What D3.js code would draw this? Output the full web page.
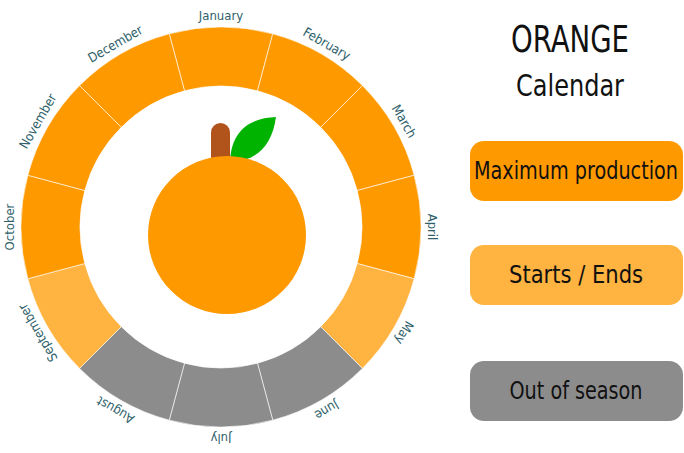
<!DOCTYPE html>
<html><head><meta charset="utf-8">
<script src="https://d3js.org/d3.v7.min.js"></script>
<style>body{margin:0;background:#fff}text{font-family:"Liberation Sans Narrow","DejaVu Sans Condensed",sans-serif}</style>
</head><body>
<script>
const months = ["January","February","March","April","May","June","July","August","September","October","November","December"];
const season = ["max","max","max","max","edge","out","out","out","edge","max","max","max"];
const legendKeys = ["max","edge","out"];
const legendLabels = ["Maximum production","Starts / Ends","Out of season"];
const legendWidths = [204,134,133];

const color = d3.scaleOrdinal().domain(legendKeys).range(["#ff9900","#ffb340","#8c8c8c"]);
const svg = d3.select("body").append("svg").attr("width",684).attr("height",453);
const cx = 221, cy = 227, rOut = 200, rIn = 141;
const angle = d3.scaleLinear().domain([0,12]).range([-Math.PI/12, 2*Math.PI - Math.PI/12]);
const arc = d3.arc().innerRadius(rIn).outerRadius(rOut);
const g = svg.append("g").attr("transform",`translate(${cx},${cy})`);
g.selectAll("path.seg").data(months).enter().append("path")
  .attr("d",(d,i)=>arc({startAngle:angle(i),endAngle:angle(i+1)}))
  .attr("fill",(d,i)=>color(season[i])).attr("stroke","#fff").attr("stroke-width",0.6);
g.selectAll("text.m").data(months).enter().append("text")
  .attr("transform",(d,i)=>`rotate(${i*30}) translate(0,${-rOut-7})`)
  .attr("text-anchor","middle").attr("font-size",13).attr("fill","#2f5f6a").text(d=>d);

// orange
svg.append("path").attr("d","M230,160 C232,130 250,118 276,117 C272,145 258,160 232,162 Z").attr("fill","#00b300");
svg.append("rect").attr("x",211).attr("y",123).attr("width",19).attr("height",50).attr("rx",9.5).attr("fill","#b0541b");
svg.append("circle").attr("cx",227).attr("cy",235).attr("r",79).attr("fill","#ff9900");

// title + legend
svg.append("text").attr("x",570).attr("y",52).attr("text-anchor","middle").attr("font-size",38)
  .attr("textLength",118).attr("lengthAdjust","spacingAndGlyphs").attr("fill","#111").text("ORANGE");
svg.append("text").attr("x",570).attr("y",96).attr("text-anchor","middle").attr("font-size",31)
  .attr("textLength",108).attr("lengthAdjust","spacingAndGlyphs").attr("fill","#111").text("Calendar");
const ly = d3.scaleOrdinal().domain(legendKeys).range([141,245,361]);
const lg = svg.selectAll("g.l").data(legendKeys).enter().append("g").attr("transform",d=>`translate(470,${ly(d)})`);
lg.append("rect").attr("width",213).attr("height",60).attr("rx",14).attr("fill",d=>color(d));
lg.append("text").attr("x",106).attr("y",38).attr("text-anchor","middle").attr("font-size",25)
  .attr("textLength",(d,i)=>legendWidths[i]).attr("lengthAdjust","spacingAndGlyphs")
  .attr("fill","#111").text((d,i)=>legendLabels[i]);
</script>
</body></html>
